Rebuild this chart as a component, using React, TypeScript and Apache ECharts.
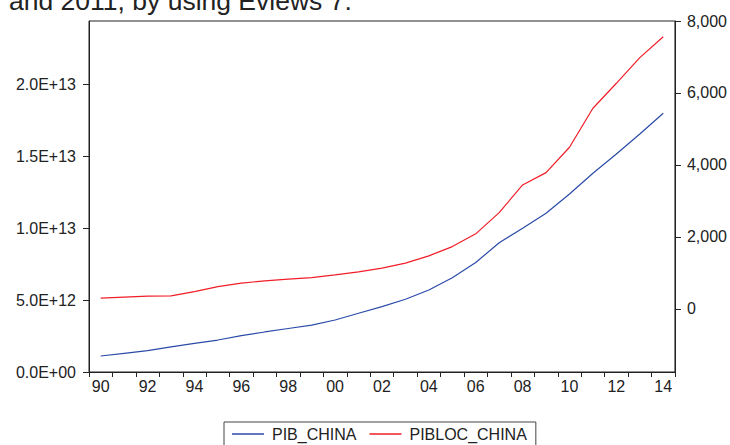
import React, { useEffect, useRef } from "react";
import * as echarts from "echarts";

const years = [
  "1990", "1991", "1992", "1993", "1994", "1995", "1996", "1997", "1998", "1999",
  "2000", "2001", "2002", "2003", "2004", "2005", "2006", "2007", "2008", "2009",
  "2010", "2011", "2012", "2013", "2014",
];

const pibChina = [
  1.11e12, 1.3e12, 1.48e12, 1.74e12, 1.99e12, 2.22e12, 2.52e12, 2.78e12, 3.02e12, 3.26e12,
  3.61e12, 4.08e12, 4.54e12, 5.05e12, 5.69e12, 6.55e12, 7.6e12, 8.98e12, 9.98e12, 11.02e12,
  12.36e12, 13.8e12, 15.14e12, 16.53e12, 17.97e12,
];

const pibLocChina = [
  297, 325, 352, 361, 481, 620, 713, 778, 825, 870,
  944, 1028, 1130, 1269, 1472, 1731, 2085, 2675, 3444, 3786,
  4492, 5575, 6269, 6981, 7564,
];

const leftTicks = [0, 5e12, 1e13, 1.5e13, 2e13];
const rightTicks = [0, 2000, 4000, 6000, 8000];

const seriesNames = ["PIB_CHINA", "PIBLOC_CHINA"];
const titleText = "and 2011, by using Eviews 7.";

const FONT = '"Liberation Sans", Arial, sans-serif';

function sci(v: number): string {
  const s = v.toExponential(1).toUpperCase();
  const [m, e] = s.split("E");
  const sign = e[0];
  const d = e.slice(1).padStart(2, "0");
  return `${m}E${sign}${d}`;
}

function thousands(v: number): string {
  return String(v).replace(/\B(?=(\d{3})+(?!\d))/g, ",");
}

export default function App() {
  const ref = useRef<HTMLDivElement>(null);

  useEffect(() => {
    if (!ref.current) return;
    const chart = echarts.init(ref.current, null, { renderer: "svg" });
    const axisColor = "#222";
    chart.setOption({
      animation: false,
      backgroundColor: "#fff",
      textStyle: { fontFamily: FONT },
      graphic: [
        {
          type: "text",
          x: 9,
          y: 1,
          style: {
            text: titleText,
            font: `26.5px ${FONT}`,
            fill: "#222",
            verticalAlign: "middle",
            align: "left",
          },
        },
      ],
      grid: {
        left: 89,
        right: 54,
        top: 21,
        bottom: 73,
        show: true,
        borderColor: axisColor,
        borderWidth: 1,
        backgroundColor: "transparent",
      },
      legend: {
        data: seriesNames,
        left: 224,
        top: 422,
        orient: "horizontal",
        icon: "rect",
        itemWidth: 32,
        itemHeight: 1.5,
        itemGap: 13,
        padding: [4, 9, 8, 8],
        borderColor: "#444",
        borderWidth: 1,
        textStyle: {
          fontSize: 16,
          color: "#222",
          fontFamily: FONT,
          padding: [0, 0, 0, 3],
        },
      },
      xAxis: {
        type: "category",
        data: years,
        boundaryGap: true,
        axisLine: { show: true, lineStyle: { color: axisColor, width: 1 } },
        axisTick: {
          show: true,
          interval: 0,
          alignWithLabel: false,
          inside: false,
          length: 5,
          lineStyle: { color: axisColor },
        },
        axisLabel: {
          interval: 1,
          margin: 6,
          fontSize: 16,
          color: "#222",
          fontFamily: FONT,
          formatter: (v: string) => v.slice(2),
        },
        splitLine: { show: false },
      },
      yAxis: [
        {
          type: "value",
          position: "left",
          min: 0,
          max: 2.4375e13,
          axisLine: { show: true, lineStyle: { color: axisColor } },
          axisTick: {
            show: true,
            length: 6,
            customValues: leftTicks,
            lineStyle: { color: axisColor },
          },
          axisLabel: {
            customValues: leftTicks,
            margin: 13,
            fontSize: 16,
            color: "#222",
            fontFamily: FONT,
            formatter: (v: number) => sci(v),
          },
          splitLine: { show: false },
        },
        {
          type: "value",
          position: "right",
          min: -1755,
          max: 8000,
          axisLine: { show: true, lineStyle: { color: axisColor } },
          axisTick: {
            show: true,
            length: 6,
            customValues: rightTicks,
            lineStyle: { color: axisColor },
          },
          axisLabel: {
            customValues: rightTicks,
            margin: 12,
            fontSize: 16,
            color: "#222",
            fontFamily: FONT,
            formatter: (v: number) => thousands(v),
          },
          splitLine: { show: false },
        },
      ],
      series: [
        {
          name: seriesNames[0],
          type: "line",
          yAxisIndex: 0,
          data: pibChina,
          showSymbol: false,
          symbol: "none",
          lineStyle: { color: "#2B4BA8", width: 1.2 },
          itemStyle: { color: "#2B4BA8" },
        },
        {
          name: seriesNames[1],
          type: "line",
          yAxisIndex: 1,
          data: pibLocChina,
          showSymbol: false,
          symbol: "none",
          lineStyle: { color: "#F01E28", width: 1.2 },
          itemStyle: { color: "#F01E28" },
        },
      ],
    });
    return () => chart.dispose();
  }, []);

  return (
    <div
      ref={ref}
      style={{ position: "fixed", left: 0, top: 0, width: 730, height: 445 }}
    />
  );
}
